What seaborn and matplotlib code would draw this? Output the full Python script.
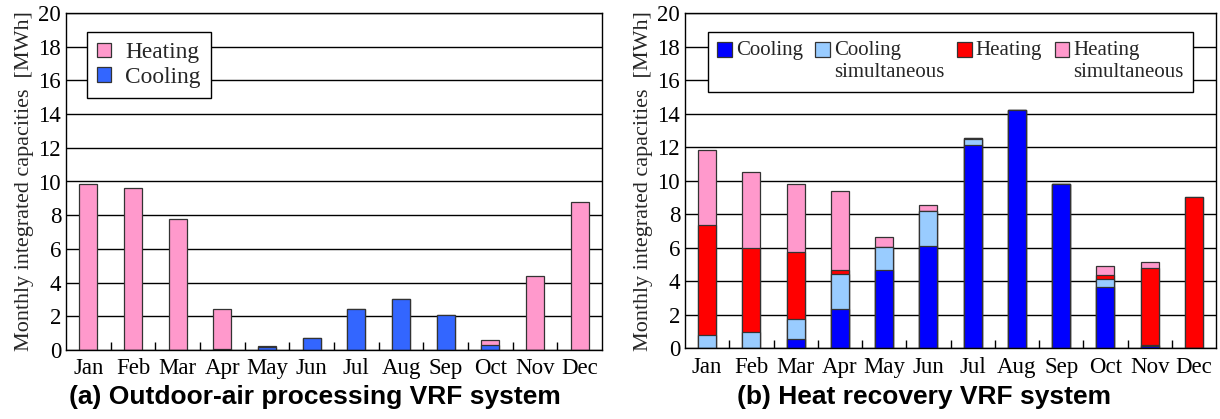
import numpy as np
import pandas as pd
import matplotlib
matplotlib.use("Agg")
import matplotlib.pyplot as plt
import seaborn as sns
from matplotlib.patches import Patch

months = ["Jan", "Feb", "Mar", "Apr", "May", "Jun", "Jul", "Aug", "Sep", "Oct", "Nov", "Dec"]

# (a) Outdoor-air processing VRF system
oa_cooling = [0.0, 0.0, 0.0, 0.08, 0.18, 0.69, 2.45, 3.04, 2.08, 0.28, 0.0, 0.0]
oa_heating = [9.83, 9.63, 7.79, 2.35, 0.08, 0.0, 0.0, 0.0, 0.0, 0.33, 4.41, 8.76]

# (b) Heat recovery VRF system
hr_cooling = [0.0, 0.04, 0.54, 2.35, 4.66, 6.09, 12.14, 14.21, 9.79, 3.68, 0.12, 0.0]
hr_cooling_sim = [0.79, 0.95, 1.19, 2.07, 1.37, 2.09, 0.34, 0.0, 0.0, 0.46, 0.06, 0.0]
hr_heating = [6.57, 4.98, 4.00, 0.24, 0.0, 0.0, 0.05, 0.0, 0.0, 0.24, 4.60, 9.01]
hr_heating_sim = [4.48, 4.57, 4.06, 4.73, 0.62, 0.38, 0.0, 0.0, 0.0, 0.53, 0.37, 0.0]

yticks = [0, 2, 4, 6, 8, 10, 12, 14, 16, 18, 20]
ylabel = "Monthly integrated capacities  [MWh]"
title_a = "(a) Outdoor-air processing VRF system"
title_b = "(b) Heat recovery VRF system"

PINK = "#FF99CC"
BLUE_A = "#3366FF"
BLUE = "#0000FF"
LIGHTBLUE = "#99CCFF"
RED = "#FF0000"
EDGE = "#333333"

sns.set_theme(style="white")
plt.rcParams["font.family"] = ["Liberation Serif", "DejaVu Serif"]
plt.rcParams["axes.edgecolor"] = "black"
plt.rcParams["axes.linewidth"] = 1.0

TICK = 16.5
YLAB = 15.9

fig = plt.figure(figsize=(12.2, 4.19), dpi=100)
W, H = 1220, 419
axA = fig.add_axes([66 / W, (H - 350) / H, 536 / W, 337 / H])
axB = fig.add_axes([685 / W, (H - 348.3) / H, 531 / W, 335 / H])


def stacked(ax, layers, colors, width):
    # draw cumulative totals from top to bottom so lower layers overlay
    cums = np.cumsum(np.array(layers), axis=0)
    for i in range(len(layers) - 1, -1, -1):
        df = pd.DataFrame({"month": months, "value": cums[i]})
        sns.barplot(data=df, x="month", y="value", order=months, color=colors[i],
                    saturation=1, width=width, errorbar=None, ax=ax,
                    edgecolor=EDGE, linewidth=0.9, zorder=3)


def style(ax):
    ax.set_xlim(-0.5, 11.5)
    ax.set_ylim(0, 20)
    ax.set_yticks(yticks)
    ax.set_yticklabels([str(v) for v in yticks], fontsize=TICK)
    ax.set_xticks(range(12))
    ax.set_xticklabels(months, fontsize=TICK)
    ax.set_xticks(np.arange(0.5, 11.5, 1.0), minor=True)
    ax.tick_params(axis="x", which="major", length=0, pad=6)
    ax.tick_params(axis="x", which="minor", length=6, width=1, direction="in",
                   color="black", bottom=True)
    ax.tick_params(axis="y", length=0, pad=3.5)
    ax.yaxis.grid(True, color="black", linewidth=1.0, zorder=0)
    ax.xaxis.grid(False)
    ax.set_axisbelow(True)
    ax.set_xlabel("")
    ax.set_ylabel(ylabel, fontsize=YLAB, labelpad=3)
    for s in ax.spines.values():
        s.set_visible(True)
        s.set_color("black")
        s.set_linewidth(1.0)
        s.set_zorder(5)
    for lab in ax.get_xticklabels() + ax.get_yticklabels():
        lab.set_color("black")


stacked(axA, [oa_cooling, oa_heating], [BLUE_A, PINK], 0.4)
stacked(axB, [hr_cooling, hr_cooling_sim, hr_heating, hr_heating_sim],
        [BLUE, LIGHTBLUE, RED, PINK], 0.41)
style(axA)
style(axB)

# legends
LA = 16.8
hA = [Patch(facecolor=PINK, edgecolor=EDGE, linewidth=0.9, label="Heating"),
      Patch(facecolor=BLUE_A, edgecolor=EDGE, linewidth=0.9, label="Cooling")]
legA = axA.legend(handles=hA, loc="upper left", bbox_to_anchor=(0.0386, 0.9445),
                  borderaxespad=0, fontsize=LA, frameon=True, fancybox=False,
                  edgecolor="black", framealpha=1, handlelength=0.6, handleheight=0.6,
                  handletextpad=0.6, labelspacing=0.15, borderpad=0.45)
legA.get_frame().set_linewidth(1.0)
legA.set_zorder(10)

LB = 15.0
hB = [Patch(facecolor=BLUE, edgecolor=EDGE, linewidth=0.9, label="Cooling\n"),
      Patch(facecolor=LIGHTBLUE, edgecolor=EDGE, linewidth=0.9, label="Cooling\nsimultaneous"),
      Patch(facecolor=RED, edgecolor=EDGE, linewidth=0.9, label="Heating\n"),
      Patch(facecolor=PINK, edgecolor=EDGE, linewidth=0.9, label="Heating\nsimultaneous")]
legB = axB.legend(handles=hB, loc="upper left", bbox_to_anchor=(0.0427, 0.944),
                  borderaxespad=0, fontsize=LB, frameon=True, fancybox=False,
                  edgecolor="black", framealpha=1, ncol=4, handlelength=0.7,
                  handleheight=0.7, handletextpad=0.2, columnspacing=0.6,
                  borderpad=0.45)
legB.get_frame().set_linewidth(1.0)
legB.set_zorder(10)
for p in legB.get_patches():
    p.set_y(p.get_y() + 0.58 * LB)

fig.text(315 / W, 1 - 397 / H, title_a, ha="center", va="center",
         fontsize=19, fontweight="bold", family="Liberation Sans", color="black")
fig.text(924 / W, 1 - 397 / H, title_b, ha="center", va="center",
         fontsize=19, fontweight="bold", family="Liberation Sans", color="black")

fig.savefig("out.png", dpi=100, facecolor="white")
